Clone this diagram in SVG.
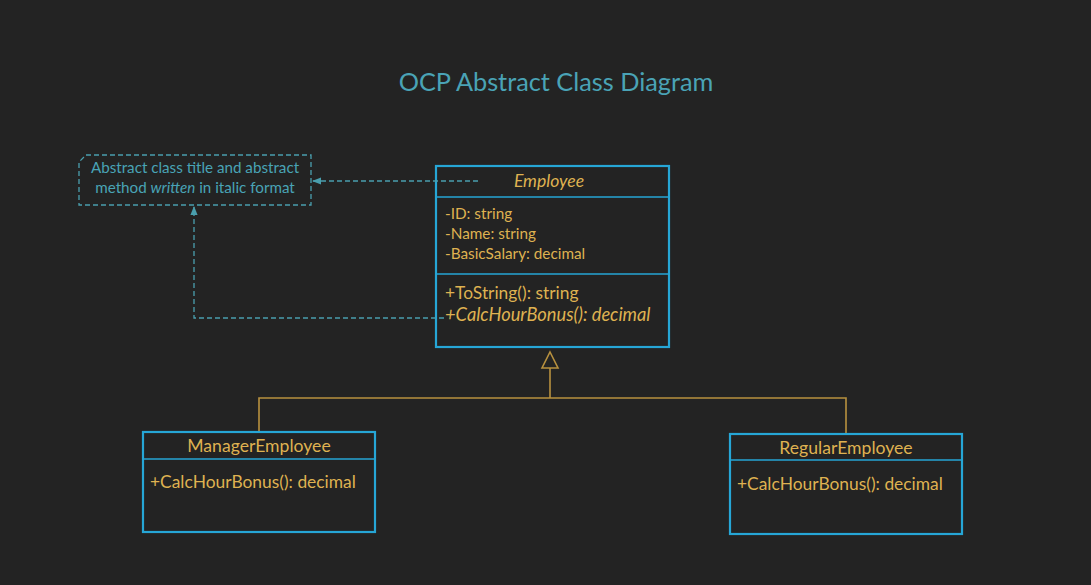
<svg xmlns="http://www.w3.org/2000/svg" width="1091" height="585" viewBox="0 0 1091 585">
<style>
text{font-family:Lato,"Open Sans","Liberation Sans",sans-serif}
.box{fill:none;stroke:#26a6d6;stroke-width:2.2}
.div{stroke:#26a6d6;stroke-width:1.6}
.gold{fill:#dfb251}
.title{font-size:17.6px;text-anchor:middle}
.attr{font-size:15.3px}
.meth{font-size:17.4px}
.abs{font-size:18.3px;font-style:italic}
.note{fill:#49a3b6;font-size:15.2px;text-anchor:middle}
.dash{fill:none;stroke:#4a9fae;stroke-width:1.3;stroke-dasharray:5,3}
.inh{fill:none;stroke:#b8913f;stroke-width:1.6}
</style>
<defs>
<marker id="arr" viewBox="0 0 10 10" refX="9" refY="5" markerWidth="7" markerHeight="7" orient="auto">
<path d="M0,1 L10,5 L0,9 Z" fill="#4a9fae"/>
</marker>
</defs>
<rect width="1091" height="585" fill="#232323"/>
<text x="556" y="91" font-size="25.3" fill="#4aa3b6" text-anchor="middle">OCP Abstract Class Diagram</text>

<g id="note">
<path class="dash" d="M86,155 L311,155 L311,205 L79,205 L79,162 Z"/>
<text class="note" x="195" y="173">Abstract class title and abstract</text>
<text class="note" x="195" y="193">method <tspan font-style="italic">written</tspan> in italic format</text>
</g>

<g id="employee">
<rect class="box" x="436" y="166" width="233" height="181"/>
<line class="div" x1="436" y1="197" x2="669" y2="197"/>
<line class="div" x1="436" y1="274" x2="669" y2="274"/>
<text class="gold title" x="549" y="187" font-style="italic">Employee</text>
<text class="gold attr" x="445" y="219">-ID: string</text>
<text class="gold attr" x="445" y="239">-Name: string</text>
<text class="gold attr" x="445" y="259">-BasicSalary: decimal</text>
<text class="gold meth" x="445" y="299">+ToString(): string</text>
<text class="gold abs" x="445" y="321">+CalcHourBonus(): decimal</text>
</g>

<g id="manager">
<rect class="box" x="143" y="432" width="232" height="100"/>
<line class="div" x1="143" y1="459" x2="375" y2="459"/>
<text class="gold title" x="259" y="452">ManagerEmployee</text>
<text class="gold meth" x="150" y="488">+CalcHourBonus(): decimal</text>
</g>

<g id="regular">
<rect class="box" x="730" y="434" width="232" height="100"/>
<line class="div" x1="730" y1="460" x2="962" y2="460"/>
<text class="gold title" x="846" y="454">RegularEmployee</text>
<text class="gold meth" x="737" y="490">+CalcHourBonus(): decimal</text>
</g>

<g id="connectors">
<path class="dash" d="M478,181 L313,181" marker-end="url(#arr)"/>
<path class="dash" d="M444,318 L194,318 L194,207" marker-end="url(#arr)"/>
<path class="inh" d="M550,368 L550,398 M259,431 L259,398 L846,398 L846,433"/>
<path class="inh" d="M550,352 L558,368 L542,368 Z" fill="#232323"/>
</g>
</svg>
